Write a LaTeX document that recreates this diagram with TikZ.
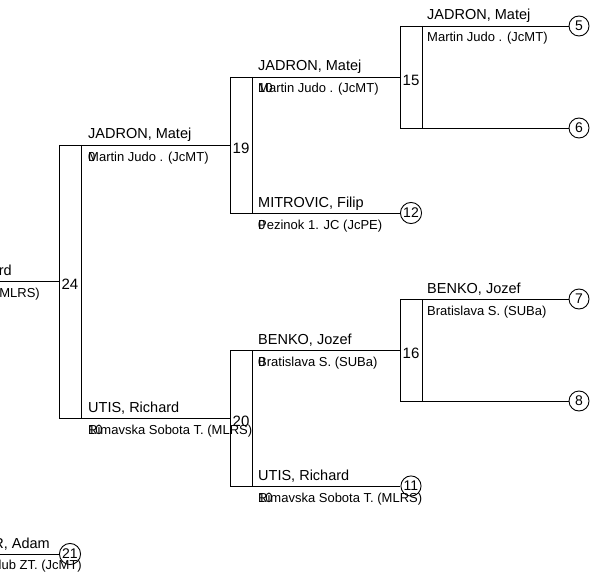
\documentclass[tikz,border=0pt]{standalone}
\usepackage{fontspec}
\setmainfont{Liberation Sans}
\usetikzlibrary{positioning}
\tikzset{
  bk/line/.style={draw=black, line width=0.9pt},
  bk/name/.style={
    font=\fontsize{14.5}{16}\selectfont,
    anchor=base west,
    inner sep=0pt
  },
  bk/club/.style={
    font=\fontsize{13}{15}\selectfont,
    anchor=base west,
    inner sep=0pt
  },
  bk/num/.style={font=\fontsize{15}{17}\selectfont, inner sep=0pt},
  bk/seed/.style={
    circle,
    draw=black,
    line width=0.9pt,
    inner sep=1pt,
    minimum size=20pt,
    font=\fontsize{14}{16}\selectfont
  }
}

\begin{document}
\begin{tikzpicture}[x=1pt,y=-1pt]
  \useasboundingbox (0,0) rectangle (596,572);
  % match brackets
  \foreach \id/\xo/\ya/\yb in {24/59/145/418, 19/230/77/213, 20/230/350/486, 15/400/26/128, 16/400/299/401} {
    \coordinate (m\id-t) at (\xo,\ya);
    \coordinate (m\id-b) at (\xo,\yb);
    \coordinate (m\id-m) at (\xo,{(\ya+\yb)/2});
    \draw[bk/line] (m\id-t) -- (m\id-b);
    \draw[bk/line] ([xshift=22pt]m\id-t) -- ([xshift=22pt]m\id-b);
    \node[bk/num] (n\id) at ([xshift=11pt,yshift=-3pt]m\id-m) {\id};
  }
  % seeds
  \node[bk/seed] (s5) at (579,26) {5};
  \node[bk/seed] (s6) at (579,128) {6};
  \node[bk/seed] (s7) at (579,299) {7};
  \node[bk/seed] (s8) at (579,401) {8};
  \node[bk/seed] (s12) at (411,213) {12};
  \node[bk/seed] (s11) at (411,486) {11};
  \node[bk/seed] (s21) at (70,554) {21};
  \coordinate (w24) at (0,281.5);
  \coordinate (w21) at (0,554);
  % connectors
  \draw[bk/line] (m24-m) -- (w24);
  \draw[bk/line] (m24-t) -- (m19-m);
  \draw[bk/line] (m24-b) -- (m20-m);
  \draw[bk/line] (m19-t) -- (m15-m);
  \draw[bk/line] (m19-b) -- (s12);
  \draw[bk/line] (m20-t) -- (m16-m);
  \draw[bk/line] (m20-b) -- (s11);
  \draw[bk/line] (m15-t) -- (s5);
  \draw[bk/line] (m15-b) -- (s6);
  \draw[bk/line] (m16-t) -- (s7);
  \draw[bk/line] (m16-b) -- (s8);
  \draw[bk/line] (w21) -- (s21);
  % players
  \node[bk/name, anchor=base east] (p24) at (12,275.5) {rd};
  \node[bk/club, anchor=base east] (c24) at (40,297.5) {(MLRS)};
  \node[bk/name] (p24a) at ([xshift=29pt,yshift=6pt]m24-t) {JADRON, Matej};
  \node[bk/club] (c24a) at ([xshift=29pt,yshift=-16pt]m24-t) {Martin Judo . (JcMT)};
  \node[bk/club] (k24a) at ([xshift=29pt,yshift=-16pt]m24-t) {0};
  \node[bk/name] (p24b) at ([xshift=29pt,yshift=6pt]m24-b) {UTIS, Richard};
  \node[bk/club] (c24b) at ([xshift=29pt,yshift=-16pt]m24-b) {Rimavska Sobota T. (MLRS)};
  \node[bk/club] (k24b) at ([xshift=29pt,yshift=-16pt]m24-b) {10};
  \node[bk/name] (p19a) at ([xshift=28pt,yshift=6pt]m19-t) {JADRON, Matej};
  \node[bk/club] (c19a) at ([xshift=28pt,yshift=-16pt]m19-t) {Martin Judo . (JcMT)};
  \node[bk/club] (k19a) at ([xshift=28pt,yshift=-16pt]m19-t) {10};
  \node[bk/name] (p19b) at ([xshift=28pt,yshift=6pt]m19-b) {MITROVIC, Filip};
  \node[bk/club] (c19b) at ([xshift=28pt,yshift=-16pt]m19-b) {Pezinok 1. JC (JcPE)};
  \node[bk/club] (k19b) at ([xshift=28pt,yshift=-16pt]m19-b) {0};
  \node[bk/name] (p20a) at ([xshift=28pt,yshift=6pt]m20-t) {BENKO, Jozef};
  \node[bk/club] (c20a) at ([xshift=28pt,yshift=-16pt]m20-t) {Bratislava S. (SUBa)};
  \node[bk/club] (k20a) at ([xshift=28pt,yshift=-16pt]m20-t) {0};
  \node[bk/name] (p20b) at ([xshift=28pt,yshift=6pt]m20-b) {UTIS, Richard};
  \node[bk/club] (c20b) at ([xshift=28pt,yshift=-16pt]m20-b) {Rimavska Sobota T. (MLRS)};
  \node[bk/club] (k20b) at ([xshift=28pt,yshift=-16pt]m20-b) {10};
  \node[bk/name] (p15a) at ([xshift=27pt,yshift=6pt]m15-t) {JADRON, Matej};
  \node[bk/club] (c15a) at ([xshift=27pt,yshift=-16pt]m15-t) {Martin Judo . (JcMT)};
  \node[bk/name] (p16a) at ([xshift=27pt,yshift=6pt]m16-t) {BENKO, Jozef};
  \node[bk/club] (c16a) at ([xshift=27pt,yshift=-16pt]m16-t) {Bratislava S. (SUBa)};
  \node[bk/name, anchor=base east] (p21) at (50,548) {R, Adam};
  \node[bk/club, anchor=base east] (c21) at (82,569) {lub ZT. (JcMT)};
\end{tikzpicture}
\end{document}
